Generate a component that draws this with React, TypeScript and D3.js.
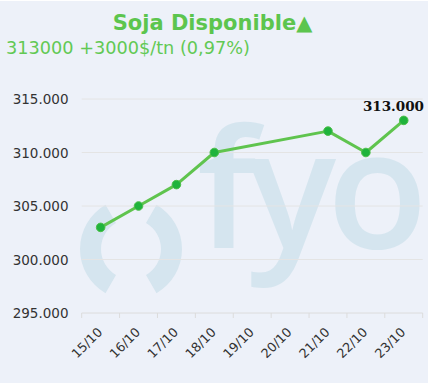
import React from "react";
import * as d3 from "d3";

const categories = ["15/10", "16/10", "17/10", "18/10", "19/10", "20/10", "21/10", "22/10", "23/10"];
const values: (number | null)[] = [303000, 305000, 307000, 310000, null, null, 312000, 310000, 313000];
const yTicks = [295000, 300000, 305000, 310000, 315000];
const titleText = "Soja Disponible▲";
const subtitleText = "313000 +3000$/tn (0,97%)";
const lastLabel = "313.000";

const W = 429;
const H = 383;
const BG = "#edf1f9";
const GREEN_LINE = "#5fc44e";
const GREEN_DOT = "#1fb33c";
const WM = "#d5e5ef";

const locale = d3.formatLocale({ decimal: ",", thousands: ".", grouping: [3], currency: ["$", ""] });
const fmt = locale.format(",");

export default function App() {
  const left = 81.7;
  const right = 422.7;
  const x = d3.scaleBand<string>().domain(categories).range([left, right]).padding(0);
  const y = d3.scaleLinear().domain([295000, 315000]).range([313, 99]);

  const pts = categories
    .map((c, i) => ({ c, v: values[i] }))
    .filter((d) => d.v !== null) as { c: string; v: number }[];

  const line = d3
    .line<{ c: string; v: number }>()
    .x((d) => (x(d.c) as number) + x.bandwidth() / 2)
    .y((d) => y(d.v));

  const cx = 131;
  const cy = 249;
  const arcGen = d3.arc();
  const leftArc = arcGen({
    innerRadius: 30,
    outerRadius: 51,
    startAngle: (210 * Math.PI) / 180,
    endAngle: (330 * Math.PI) / 180,
  }) as string;
  const rightArc = arcGen({
    innerRadius: 30,
    outerRadius: 51,
    startAngle: (30 * Math.PI) / 180,
    endAngle: (150 * Math.PI) / 180,
  }) as string;

  const last = pts[pts.length - 1];
  const boundaries = categories.map((c) => x(c) as number).concat([right]);

  return (
    <svg
      width={W}
      height={H}
      style={{ position: "absolute", left: 0, top: 0, background: "#ffffff" }}
      fontFamily="'DejaVu Sans', Verdana, sans-serif"
    >
      <rect x={0} y={1} width={W - 1} height={H - 1} fill={BG} />

      {/* watermark */}
      <g fill={WM}>
        <path d={leftArc} transform={`translate(${cx},${cy})`} />
        <path d={rightArc} transform={`translate(${cx},${cy})`} />
        <text x={197} y={248} fontFamily="'Open Sans', sans-serif" fontWeight={600} fontSize={165} letterSpacing={-9}>
          fyo
        </text>
      </g>

      {/* title */}
      <text x={212.5} y={30} textAnchor="middle" fontWeight="bold" fontSize={21} fill="#5cc54e">
        {titleText}
      </text>
      <text x={6} y={54} fontSize={17.7} fill="#62c954">
        {subtitleText}
      </text>

      {/* grid */}
      {yTicks.map((t) => (
        <g key={t}>
          <line x1={left} x2={right} y1={y(t)} y2={y(t)} stroke={t === 295000 ? "#dcdcdc" : "#e4e4e4"} strokeWidth={1} />
          <text x={68.5} y={y(t) + 5} textAnchor="end" fontSize={13.5} fill="#333333">
            {fmt(t)}
          </text>
        </g>
      ))}

      {/* x ticks */}
      {boundaries.map((b, i) => (
        <line key={i} x1={b} x2={b} y1={313} y2={318} stroke="#dcdcdc" strokeWidth={1} />
      ))}
      {categories.map((c) => {
        const px = (x(c) as number) + x.bandwidth() / 2 + 2.5;
        const py = 333;
        return (
          <text
            key={c}
            x={px}
            y={py}
            textAnchor="end"
            fontSize={12.8}
            fill="#333333"
            transform={`rotate(-45 ${px} ${py})`}
          >
            {c}
          </text>
        );
      })}

      {/* series */}
      <path d={line(pts) as string} fill="none" stroke={GREEN_LINE} strokeWidth={3} strokeLinejoin="round" />
      {pts.map((d) => (
        <circle
          key={d.c}
          cx={(x(d.c) as number) + x.bandwidth() / 2}
          cy={y(d.v)}
          r={4.3}
          fill={GREEN_DOT}
          stroke="#4cbf4a"
          strokeWidth={1}
        />
      ))}

      <text
        x={424}
        y={y(last.v) - 9.5}
        textAnchor="end"
        fontFamily="'DejaVu Serif', serif"
        fontWeight="bold"
        fontSize={13.5}
        fill="#111111"
      >
        {lastLabel}
      </text>
    </svg>
  );
}
